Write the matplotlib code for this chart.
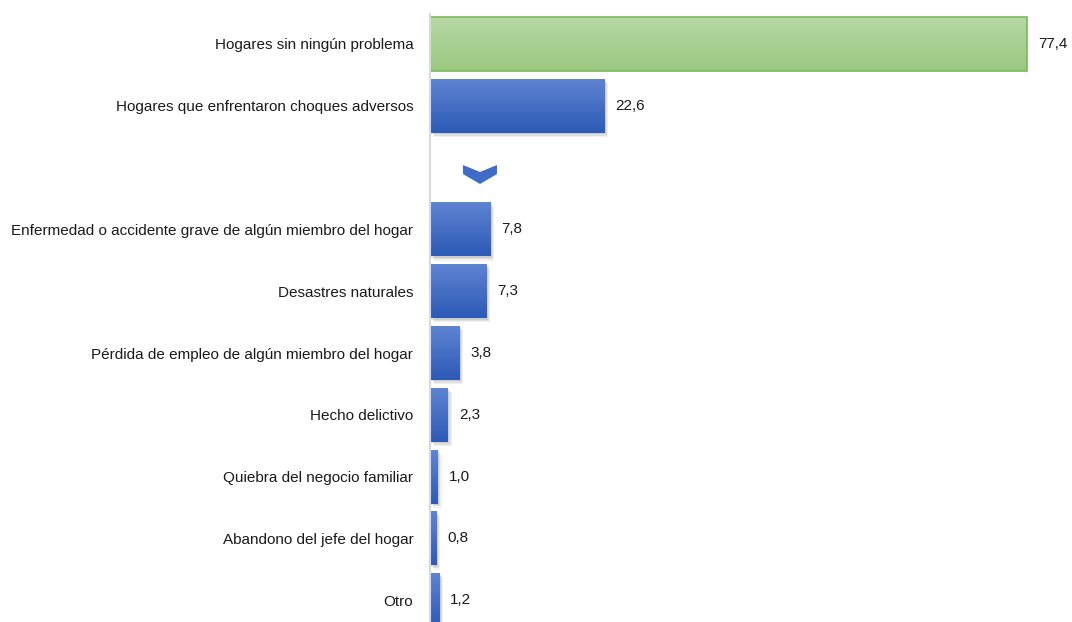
import numpy as np
import matplotlib.pyplot as plt
from matplotlib.colors import LinearSegmentedColormap
from matplotlib.patches import Polygon
import matplotlib.patheffects as pe

plt.rcParams['font.family'] = ['Liberation Sans Narrow', 'Liberation Sans', 'DejaVu Sans']

# datos
categorias = ['Hogares sin ningún problema',
              'Hogares que enfrentaron choques adversos',
              '',
              'Enfermedad o accidente grave de algún miembro del hogar',
              'Desastres naturales',
              'Pérdida de empleo de algún miembro del hogar',
              'Hecho delictivo',
              'Quiebra del negocio familiar',
              'Abandono del jefe del hogar',
              'Otro']
valores = [77.4, 22.6, None, 7.8, 7.3, 3.8, 2.3, 1.0, 0.8, 1.2]
etiquetas = ['77,4', '22,6', '', '7,8', '7,3', '3,8', '2,3', '1,0', '0,8', '1,2']

fig = plt.figure(figsize=(10.72, 6.22), dpi=100)
ax = fig.add_axes([430 / 1072, 0, 1 - 430 / 1072, 1 - 14 / 622])

cmap_azul = LinearSegmentedColormap.from_list('azul', ['#5f84d2', '#2d5ab6'])
cmap_verde = LinearSegmentedColormap.from_list('verde', ['#b8d8a6', '#9ac880'])
grad = np.linspace(0, 1, 100).reshape(-1, 1)
alto = 0.875

for i, v in enumerate(valores):
    if v is None:
        continue
    verde = i == 0
    bar = ax.barh(i, v, height=alto, color='none',
                  edgecolor='#7ab85a' if verde else 'none',
                  linewidth=1.2 if verde else 0, zorder=3)[0]
    if not verde:
        # sombra suave
        for k, a in [(3.0, 0.10), (2.0, 0.14), (1.0, 0.18)]:
            sh = ax.barh(i, v, height=alto, color='#2d5ab6', zorder=1)[0]
            sh.set_path_effects([pe.SimplePatchShadow(offset=(k, -k), shadow_rgbFace='#777777', alpha=a)])
    im = ax.imshow(grad, extent=[0, v, i + alto / 2, i - alto / 2], aspect='auto',
                   cmap=cmap_verde if verde else cmap_azul, zorder=2)
    im.set_clip_path(bar)
    ax.annotate(etiquetas[i], (v, i), xytext=(8, 0), textcoords='offset points',
                ha='left', va='center', fontsize=11, color='#1a1a1a')

# flecha (chevron)
px = 7.713
def dx(p):
    return (p - 430) / px
def dy(p):
    return (p - 44) / 61.8
chev = Polygon([(dx(463), dy(165)), (dx(480), dy(172)), (dx(497), dy(165)),
                (dx(497), dy(174)), (dx(480), dy(184)), (dx(463), dy(174))],
               closed=True, facecolor='#3f6cc6', edgecolor='none', zorder=3)
ax.add_patch(chev)

ax.set_xlim(0, (1072 - 430) / px)
ax.set_ylim((622 - 44) / 61.8, -30 / 61.8)
ax.set_yticks(range(len(categorias)))
ax.set_yticklabels(categorias, fontsize=11, color='#1a1a1a')
ax.tick_params(axis='y', length=0, pad=12)
ax.xaxis.set_visible(False)
for s in ['top', 'right', 'bottom']:
    ax.spines[s].set_visible(False)
ax.spines['left'].set_color('#d9d9d9')
ax.spines['left'].set_linewidth(1.5)
ax.spines['left'].set_zorder(5)

fig.savefig('out.png', dpi=100)
